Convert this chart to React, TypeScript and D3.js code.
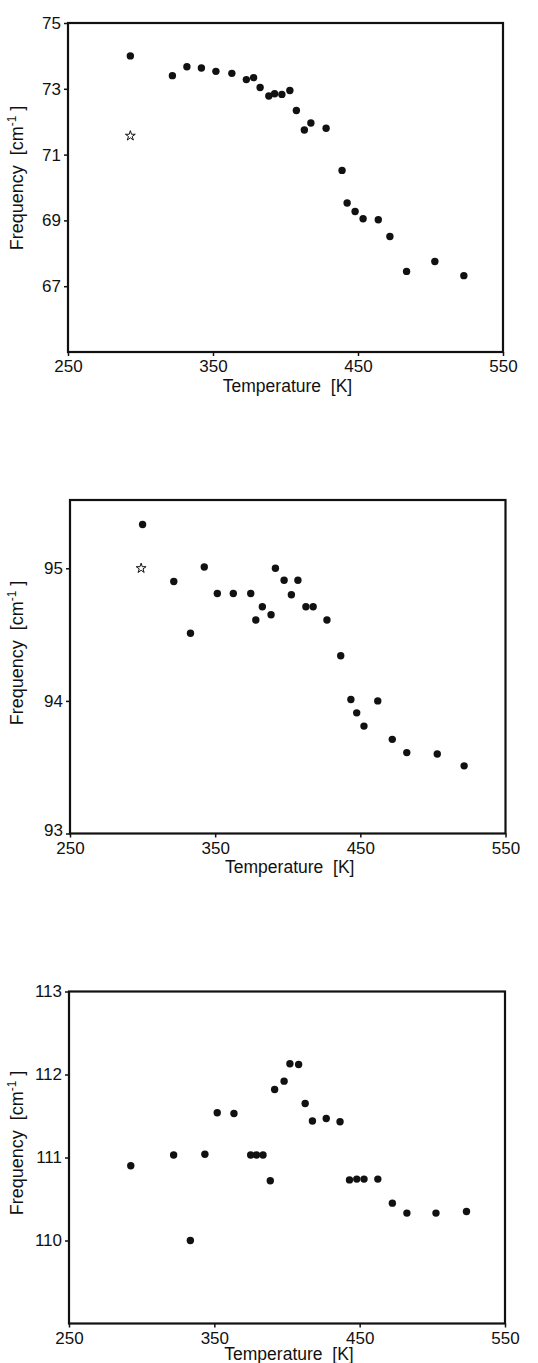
import * as d3 from "d3";
import { useEffect, useRef } from "react";

// temperatures [K] and frequencies [cm-1]
const temps1 = [293, 322, 332, 342, 352, 363, 373, 378, 382.5, 388.5, 392.5, 397.5, 403, 407.5, 413, 417.5, 428, 439, 442.5, 448, 453.5, 464, 472, 483.5, 503, 523];
const freq1 = [74.0, 73.4, 73.67, 73.63, 73.53, 73.47, 73.28, 73.34, 73.04, 72.78, 72.85, 72.83, 72.95, 72.34, 71.75, 71.96, 71.8, 70.52, 69.53, 69.27, 69.05, 69.02, 68.51, 67.45, 67.75, 67.32];
const star1 = [{ t: 293, f: 71.57 }];

const temps2 = [300, 321.5, 333, 342.5, 351.5, 362.5, 374.5, 378, 382.5, 388.5, 391.5, 397.5, 402.5, 407, 412.5, 417.5, 427, 436.5, 443.5, 447.5, 452.5, 462, 472, 482, 503, 521.5];
const freq2 = [95.33, 94.9, 94.51, 95.01, 94.81, 94.81, 94.81, 94.61, 94.71, 94.65, 95.0, 94.91, 94.8, 94.91, 94.71, 94.71, 94.61, 94.34, 94.01, 93.91, 93.81, 94.0, 93.71, 93.61, 93.6, 93.51];
const star2 = [{ t: 299, f: 95.0 }];

const temps3 = [292.5, 322, 333.5, 343.5, 352, 363.5, 375, 379, 383.5, 388.5, 391.5, 398, 402, 408, 412.5, 417.5, 427, 436.5, 443, 448, 453, 462.5, 472.5, 482.5, 502.5, 523.5];
const freq3 = [110.9, 111.03, 110.0, 111.04, 111.54, 111.53, 111.03, 111.03, 111.03, 110.72, 111.82, 111.92, 112.13, 112.12, 111.65, 111.44, 111.47, 111.43, 110.73, 110.74, 110.74, 110.74, 110.45, 110.33, 110.33, 110.35];

const xTicks = [250, 350, 450, 550];
const yTicks1 = [67, 69, 71, 73, 75];
const yTicks2 = [93, 94, 95];
const yTicks3 = [110, 111, 112, 113];

const panels = [
  { temps: temps1, freqs: freq1, stars: star1, yDomain: [65, 75], yTicks: yTicks1, left: 68, right: 503, top: 23, bottom: 352, titleY: 392, yTitleC: 178 },
  { temps: temps2, freqs: freq2, stars: star2, yDomain: [93, 95.515], yTicks: yTicks2, left: 70, right: 505.5, top: 500, bottom: 833.5, titleY: 873, yTitleC: 653 },
  { temps: temps3, freqs: freq3, stars: [], yDomain: [109, 113], yTicks: yTicks3, left: 69, right: 505, top: 991.5, bottom: 1323.5, titleY: 1360, yTitleC: 1143 },
];

const FONT = "'Liberation Sans', Arial, Helvetica, sans-serif";
const INK = "#111";

const App = () => {
  const ref = useRef<SVGSVGElement | null>(null);

  useEffect(() => {
    const svg = d3.select(ref.current);
    svg.selectAll("*").remove();

    panels.forEach((p) => {
      const x = d3.scaleLinear().domain([250, 550]).range([p.left, p.right]);
      const y = d3.scaleLinear().domain(p.yDomain).range([p.bottom, p.top]);
      const g = svg.append("g");

      // frame
      g.append("rect")
        .attr("x", p.left).attr("y", p.top)
        .attr("width", p.right - p.left).attr("height", p.bottom - p.top)
        .attr("fill", "none").attr("stroke", INK).attr("stroke-width", 2.2);

      // y axis
      const yAxis = g.append("g")
        .attr("transform", `translate(${p.left},0)`)
        .call(d3.axisLeft(y).tickValues(p.yTicks).tickSize(4).tickPadding(3).tickFormat(d3.format("d")));
      yAxis.select(".domain").remove();
      yAxis.selectAll("line").attr("stroke", INK).attr("stroke-width", 1.5);
      yAxis.selectAll("text").attr("font-family", FONT).attr("font-size", 17).attr("fill", INK);
      yAxis.selectAll(".tick").filter((d) => d === p.yDomain[0]).select("text").attr("dy", "0.1em");

      // x axis
      const xAxis = g.append("g")
        .attr("transform", `translate(0,${p.bottom})`)
        .call(d3.axisBottom(x).tickValues(xTicks).tickSize(4).tickPadding(4).tickFormat(d3.format("d")));
      xAxis.select(".domain").remove();
      xAxis.selectAll("line").attr("stroke", INK).attr("stroke-width", 1.5);
      xAxis.selectAll("text").attr("font-family", FONT).attr("font-size", 17).attr("fill", INK);

      // axis titles
      g.append("text")
        .attr("x", (p.left + p.right) / 2 + 2)
        .attr("y", p.titleY)
        .attr("text-anchor", "middle")
        .attr("font-family", FONT).attr("font-size", 17.5).attr("fill", INK)
        .attr("xml:space", "preserve")
        .text("Temperature  [K]");

      const yt = g.append("text")
        .attr("transform", `translate(23,${p.yTitleC}) rotate(-90)`)
        .attr("text-anchor", "middle")
        .attr("font-family", FONT).attr("font-size", 18).attr("fill", INK)
        .attr("xml:space", "preserve");
      yt.append("tspan").text("Frequency  [cm");
      yt.append("tspan").attr("dy", -7).attr("font-size", 12).text("-1");
      yt.append("tspan").attr("dy", 7).text(" ]");

      // points
      const pts = p.temps.map((t, i) => ({ t, f: p.freqs[i] }));
      g.append("g").selectAll("circle")
        .data(pts).enter().append("circle")
        .attr("cx", (d) => x(d.t))
        .attr("cy", (d) => y(d.f))
        .attr("r", 3.7)
        .attr("fill", INK);

      const star = d3.symbol().type(d3.symbolStar).size(30);
      g.append("g").selectAll("path")
        .data(p.stars).enter().append("path")
        .attr("d", star)
        .attr("transform", (d) => `translate(${x(d.t)},${y(d.f)})`)
        .attr("fill", "white").attr("stroke", INK).attr("stroke-width", 1);
    });
  }, []);

  return (
    <svg
      ref={ref}
      width={538}
      height={1363}
      style={{ position: "absolute", left: 0, top: 0, background: "white" }}
    />
  );
};

export default App;
